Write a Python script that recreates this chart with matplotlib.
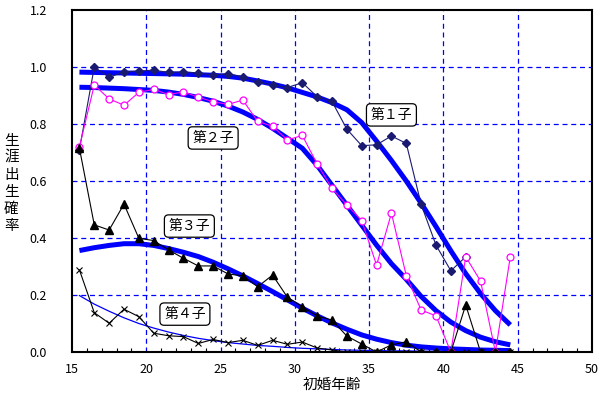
import numpy as np
import matplotlib
matplotlib.use("Agg")
from matplotlib import pyplot as plt
from matplotlib.ticker import MultipleLocator

plt.rcParams['font.family'] = ['Noto Sans CJK JP', 'DejaVu Sans']

#Ages (midpoints of one-year classes)
ages = [15.5, 16.5, 17.5, 18.5, 19.5, 20.5, 21.5, 22.5, 23.5, 24.5,
        25.5, 26.5, 27.5, 28.5, 29.5, 30.5, 31.5, 32.5, 33.5, 34.5,
        35.5, 36.5, 37.5, 38.5, 39.5, 40.5, 41.5, 42.5, 43.5, 44.5]

#Observed probabilities
nan = np.nan
first = [0.71, 1.00, 0.964, 0.983, 0.986, 0.989, 0.981, 0.983, 0.979, 0.972,
         0.977, 0.965, 0.947, 0.937, 0.928, 0.945, 0.896, 0.879, 0.782, 0.724,
         0.727, 0.758, 0.732, 0.518, 0.375, 0.285, 0.334, nan, nan, nan]
second = [0.720, 0.937, 0.888, 0.866, 0.911, 0.922, 0.903, 0.913, 0.894, 0.878,
          0.869, 0.884, 0.809, 0.792, 0.744, 0.760, 0.660, 0.574, 0.516, 0.461,
          0.305, 0.487, 0.268, 0.147, 0.127, 0.0, 0.334, 0.249, 0.0, 0.334]
third = [0.715, 0.446, 0.428, 0.519, 0.399, 0.391, 0.358, 0.329, 0.302, 0.302,
         0.274, 0.267, 0.229, 0.270, 0.192, 0.159, 0.126, 0.112, 0.056, 0.028,
         0.0, 0.025, 0.036, 0.0, 0.0, 0.0, 0.165, 0.0, 0.0, 0.0]
fourth = [0.288, 0.138, 0.101, 0.150, 0.124, 0.066, 0.057, 0.054, 0.030, 0.044,
          0.033, 0.041, 0.023, 0.041, 0.027, 0.035, 0.014, 0.007, 0.0, 0.0,
          0.0, 0.0, 0.0, 0.0, 0.0, 0.0, 0.0, 0.0, 0.0, 0.0]

#Fitted curves
fit1 = [0.982, 0.981, 0.980, 0.979, 0.978, 0.977, 0.976, 0.975, 0.973, 0.971,
        0.967, 0.961, 0.951, 0.940, 0.927, 0.911, 0.895, 0.875, 0.850, 0.805,
        0.740, 0.672, 0.600, 0.522, 0.440, 0.355, 0.275, 0.205, 0.145, 0.095]
fit2 = [0.929, 0.928, 0.926, 0.924, 0.921, 0.918, 0.912, 0.904, 0.893, 0.880,
        0.863, 0.842, 0.816, 0.785, 0.750, 0.715, 0.655, 0.585, 0.515, 0.445,
        0.375, 0.310, 0.255, 0.195, 0.145, 0.105, 0.075, 0.052, 0.036, 0.025]
fit3 = [0.356, 0.366, 0.374, 0.380, 0.380, 0.374, 0.363, 0.350, 0.335, 0.315,
        0.292, 0.267, 0.240, 0.212, 0.183, 0.154, 0.127, 0.102, 0.080, 0.060,
        0.045, 0.033, 0.024, 0.018, 0.014, 0.011, 0.009, 0.007, 0.006, 0.005]
fit4 = [0.198, 0.168, 0.143, 0.120, 0.100, 0.084, 0.070, 0.058, 0.048, 0.040,
        0.033, 0.028, 0.023, 0.020, 0.016, 0.013, 0.011, 0.009, 0.007, 0.006,
        0.005, 0.004, 0.004, 0.003, 0.003, 0.002, 0.002, 0.002, 0.001, 0.001]

labels = ["第１子", "第２子", "第３子", "第４子"]
label_pos = [(36.5, 0.832), (24.5, 0.751), (22.9, 0.442), (22.6, 0.133)]
ylabel = "生涯出生確率"

fig = plt.figure(figsize=(5.99, 3.96), dpi=100)
ax = fig.add_axes([0.1202, 0.1111, 0.8681, 0.8636])

#Fits
blue = "#0000FF"
ax.plot(ages, fit1, color=blue, lw=3.6, zorder=2, solid_capstyle="butt")
ax.plot(ages, fit2, color=blue, lw=3.6, zorder=2, solid_capstyle="butt")
ax.plot(ages, fit3, color=blue, lw=3.6, zorder=2, solid_capstyle="butt")
ax.plot(ages, fit4, color=blue, lw=0.9, zorder=2)

#Observed
ax.plot(ages, first, color="#1a1a70", lw=0.8, marker="D", ms=4.5, zorder=3)
ax.plot(ages, second, color="#FF00FF", lw=0.8, marker="o", ms=5, mfc="white",
        mec="#FF00FF", mew=0.9, zorder=3)
ax.plot(ages, third, color="black", lw=0.8, marker="^", ms=6, zorder=4)
ax.plot(ages, fourth, color="black", lw=0.8, marker="x", ms=4, mew=0.8, zorder=3)

for txt, (x, y) in zip(labels, label_pos):
    ax.text(x, y, txt, fontsize=10, ha="center", va="center", zorder=5,
            bbox=dict(boxstyle="round,pad=0.3,rounding_size=0.3", fc="white", ec="black", lw=0.9))

#Axes details
ax.set_xlim(15, 50)
ax.set_ylim(0, 1.2)
ax.set_xticks(range(15, 51, 5))
ax.set_yticks(np.arange(0, 1.21, 0.2))
ax.set_yticklabels([f"{v:.1f}" for v in np.arange(0, 1.21, 0.2)])
ax.xaxis.set_minor_locator(MultipleLocator(1))
ax.tick_params(axis="x", which="major", length=0, pad=8, labelsize=9)
ax.tick_params(axis="x", which="minor", direction="in", length=3, width=0.8)
ax.tick_params(axis="y", length=0, pad=18, labelsize=9)

for v in range(20, 50, 5):
    ax.axvline(v, color=blue, lw=0.9, ls=(0, (4, 3)), zorder=1)
for v in [0.2, 0.4, 0.6, 0.8, 1.0]:
    ax.axhline(v, color=blue, lw=0.9, ls=(0, (4, 3)), zorder=1)

for s in ax.spines.values():
    s.set_linewidth(1.5)
    s.set_zorder(6)

ax.set_xlabel("初婚年齢", fontsize=10.5, labelpad=1)

#Vertical y label, one character per line
for i, ch in enumerate(ylabel):
    fig.text(0.019, 1 - (141 + 17 * i) / 396, ch, fontsize=10.5, ha="center", va="center")

plt.savefig("out.png", dpi=100)
